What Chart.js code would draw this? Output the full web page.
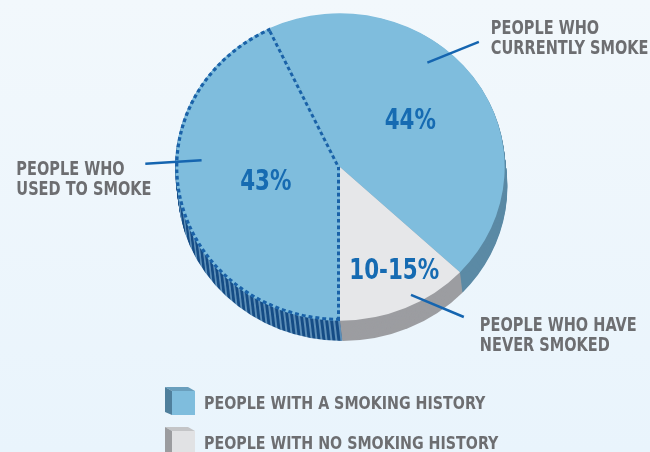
<!DOCTYPE html>
<html lang="en">
<head>
<meta charset="UTF-8">
<title>Smoking history</title>
<style>
  html, body { margin: 0; padding: 0; }
  .box { position: relative; width: 650px; height: 452px; background: linear-gradient(#f2f8fc, #e9f4fc); }
</style>
</head>
<body>
<div class="box"><canvas id="myChart" width="650" height="452"></canvas></div>
<script src="https://cdn.jsdelivr.net/npm/chart.js"></script>
<script>
// data
const categories = ['PEOPLE WHO USED TO SMOKE', 'PEOPLE WHO CURRENTLY SMOKE', 'PEOPLE WHO HAVE NEVER SMOKED'];
const labelLines = [['PEOPLE WHO', 'USED TO SMOKE'], ['PEOPLE WHO', 'CURRENTLY SMOKE'], ['PEOPLE WHO HAVE', 'NEVER SMOKED']];
const shares = [43, 44, 13];
const shareText = ['43%', '44%', '10-15%'];
const legendLabels = ['PEOPLE WITH A SMOKING HISTORY', 'PEOPLE WITH NO SMOKING HISTORY'];

// look
const FONT = '"DejaVu Sans Condensed", "DejaVu Sans", sans-serif';
const NARROW = 0.85;   // squeeze text a bit more, like the condensed original
const SY = 0.933;      // pie top is a bit squashed
const DEPTH = 20;      // thickness of the pie side
const topColors = ['#7fbddd', '#7fbddd', '#e6e7e9'];
const legendColors = [['#7fbddd', '#4f7f9c', '#6a9fbd'], ['#e1e2e4', '#9b9c9f', '#c4c5c7']];

// stripes on the side of the "used to smoke" slice
const pc = document.createElement('canvas');
pc.width = 5; pc.height = 5;
const pctx = pc.getContext('2d');
pctx.fillStyle = '#5d8fb8'; pctx.fillRect(0, 0, 5, 5);
pctx.fillStyle = '#154c85'; pctx.fillRect(0, 0, 3, 5);
const ctx0 = document.getElementById('myChart').getContext('2d');
const sideColors = [ctx0.createPattern(pc, 'repeat'), '#5b8aa5', '#9c9da1'];

// label placement: angle from 12 o'clock (deg), fraction of radius
const pctPlace = [{ a: 258, r: 0.46 }, { a: 55, r: 0.52 }, { a: 154, r: 0.75 }];
const leaders = [
  { a0: 273, r0: 0.84, a1: 271, r1: 1.18 },
  { a0: 38, r0: 0.86, a1: 46, r1: 1.17 },
  { a0: 152.6, r0: 0.935, a1: 142.4, r1: 1.23 }
];
const textOffset = [{ dx: -129, dy: 11 }, { dx: 12, dy: -8 }, { dx: 16, dy: 14 }];

function squash(ctx, el) {
  ctx.translate(el.x, el.y);
  ctx.scale(1, SY);
  ctx.translate(-el.x, -el.y);
}

function onPie(el, a, r) {
  const t = (a - 90) * Math.PI / 180;
  return { x: el.x + Math.cos(t) * r * el.outerRadius, y: el.y + Math.sin(t) * r * el.outerRadius * SY };
}

function narrowText(ctx, t, x, y, k) {
  ctx.save();
  ctx.translate(x, y);
  ctx.scale(k || NARROW, 1);
  ctx.fillText(t, 0, 0);
  ctx.restore();
}

const pie3d = {
  id: 'pie3d',
  beforeDatasetsDraw(chart) {
    const ctx = chart.ctx;
    const arcs = chart.getDatasetMeta(0).data;
    for (let d = DEPTH; d > 0; d--) {
      arcs.forEach((el, i) => {
        ctx.save();
        ctx.translate(d * 0.12, d);
        squash(ctx, el);
        ctx.beginPath();
        ctx.moveTo(el.x, el.y);
        ctx.arc(el.x, el.y, el.outerRadius, el.startAngle, el.endAngle);
        ctx.closePath();
        ctx.fillStyle = sideColors[i];
        ctx.fill();
        ctx.restore();
      });
    }
    ctx.save();
    squash(ctx, arcs[0]);
  },
  afterDatasetsDraw(chart) {
    const ctx = chart.ctx;
    ctx.restore();
    const arcs = chart.getDatasetMeta(0).data;

    // leader lines + outside labels
    arcs.forEach((el, i) => {
      const l = leaders[i];
      const p0 = onPie(el, l.a0, l.r0);
      const p1 = onPie(el, l.a1, l.r1);
      ctx.beginPath();
      ctx.moveTo(p0.x, p0.y);
      ctx.lineTo(p1.x, p1.y);
      ctx.strokeStyle = '#1565b0';
      ctx.lineWidth = 2.5;
      ctx.stroke();

      ctx.fillStyle = '#6d6e71';
      ctx.font = 'bold 19px ' + FONT;
      ctx.textAlign = 'left';
      ctx.textBaseline = 'alphabetic';
      labelLines[i].forEach((t, k) => {
        narrowText(ctx, t, p1.x + textOffset[i].dx, p1.y + textOffset[i].dy + k * 20);
      });

      // percentages
      const c = onPie(el, pctPlace[i].a, pctPlace[i].r);
      ctx.fillStyle = '#166bb2';
      ctx.font = 'bold 28px ' + FONT;
      ctx.textAlign = 'center';
      ctx.textBaseline = 'middle';
      narrowText(ctx, shareText[i], c.x, c.y + 1);
    });

    // legend with little 3d boxes
    const lx = 165, ly = 387, gap = 40;
    legendLabels.forEach((t, i) => {
      const y = ly + i * gap;
      const col = legendColors[i];
      ctx.fillStyle = col[2];
      ctx.beginPath();
      ctx.moveTo(lx, y); ctx.lineTo(lx + 23, y); ctx.lineTo(lx + 30, y + 4); ctx.lineTo(lx + 7, y + 4);
      ctx.closePath(); ctx.fill();
      ctx.fillStyle = col[1];
      ctx.beginPath();
      ctx.moveTo(lx, y); ctx.lineTo(lx + 7, y + 4); ctx.lineTo(lx + 7, y + 28); ctx.lineTo(lx, y + 25);
      ctx.closePath(); ctx.fill();
      ctx.fillStyle = col[0];
      ctx.fillRect(lx + 7, y + 4, 23, 24);

      ctx.fillStyle = '#6d6e71';
      ctx.font = 'bold 18px ' + FONT;
      ctx.textAlign = 'left';
      ctx.textBaseline = 'alphabetic';
      narrowText(ctx, t, lx + 39, y + 22, 0.88);
    });
  }
};

const myChart = new Chart(document.getElementById('myChart'), {
  type: 'pie',
  data: {
    labels: categories,
    datasets: [{
      data: shares,
      backgroundColor: topColors,
      borderColor: '#1a62a8',
      borderWidth: [3, 0, 0],
      borderDash: [4, 3],
      borderAlign: 'inner'
    }]
  },
  options: {
    responsive: false,
    animation: false,
    events: [],
    rotation: 180,
    layout: { padding: { left: 175, right: 145, top: 2, bottom: 120 } },
    plugins: {
      legend: { display: false },
      tooltip: { enabled: false }
    }
  },
  plugins: [pie3d]
});
</script>
</body>
</html>
